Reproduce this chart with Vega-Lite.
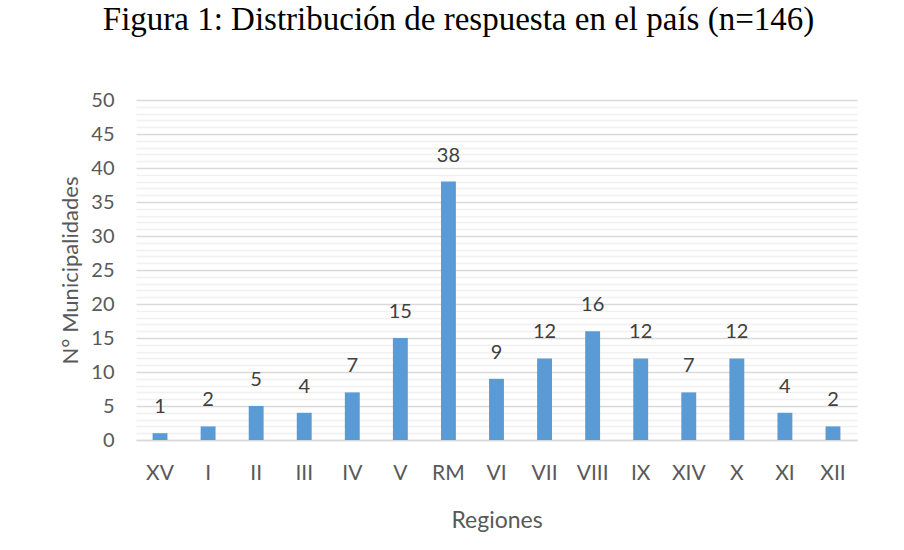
{
  "$schema": "https://vega.github.io/schema/vega-lite/v6.json",
  "width": 721,
  "height": 340,
  "autosize": "none",
  "padding": {"left": 136, "top": 100, "right": 47, "bottom": 110},
  "background": "white",
  "title": {
    "text": "Figura 1: Distribución de respuesta en el país (n=146)",
    "font": "Liberation Serif",
    "fontSize": 33,
    "fontWeight": "normal",
    "color": "#000000",
    "anchor": "middle",
    "baseline": "bottom",
    "offset": 20,
    "dx": -38
  },
  "config": {
    "view": {"stroke": null},
    "font": "Lato"
  },
  "data": {
    "values": [
      {"region": "XV", "n": 1},
      {"region": "I", "n": 2},
      {"region": "II", "n": 5},
      {"region": "III", "n": 4},
      {"region": "IV", "n": 7},
      {"region": "V", "n": 15},
      {"region": "RM", "n": 38},
      {"region": "VI", "n": 9},
      {"region": "VII", "n": 12},
      {"region": "VIII", "n": 16},
      {"region": "IX", "n": 12},
      {"region": "XIV", "n": 7},
      {"region": "X", "n": 12},
      {"region": "XI", "n": 4},
      {"region": "XII", "n": 2}
    ]
  },
  "encoding": {
    "x": {
      "field": "region",
      "type": "nominal",
      "sort": null,
      "title": "Regiones",
      "scale": {"paddingInner": 0.69, "paddingOuter": 0.345},
      "axis": {
        "labelAngle": 0,
        "labelFont": "Lato",
        "labelFontSize": 21,
        "labelColor": "#595959",
        "labelPadding": 22,
        "ticks": false,
        "domain": true,
        "domainColor": "#d9d9d9",
        "domainWidth": 1.5,
        "titleFont": "Lato",
        "titleFontSize": 23,
        "titleFontWeight": "normal",
        "titleColor": "#595959",
        "titlePadding": 26
      }
    },
    "y": {
      "field": "n",
      "type": "quantitative",
      "title": "N° Municipalidades",
      "scale": {"domain": [0, 50], "nice": false},
      "axis": {
        "values": [0,1,2,3,4,5,6,7,8,9,10,11,12,13,14,15,16,17,18,19,20,21,22,23,24,25,26,27,28,29,30,31,32,33,34,35,36,37,38,39,40,41,42,43,44,45,46,47,48,49,50],
        "labelExpr": "datum.value % 5 === 0 ? datum.label : ''",
        "gridColor": {"condition": {"test": "datum.value % 5 === 0", "value": "#d9d9d9"}, "value": "#f0f0f0"},
        "gridWidth": 1.3,
        "ticks": false,
        "domain": false,
        "labelFont": "Lato",
        "labelFontSize": 20,
        "labelColor": "#595959",
        "labelPadding": 22,
        "titleFont": "Lato",
        "titleFontSize": 22,
        "titleFontWeight": "normal",
        "titleColor": "#595959",
        "titlePadding": 8
      }
    }
  },
  "layer": [
    {"mark": {"type": "bar", "color": "#5b9bd5"}},
    {
      "mark": {"type": "text", "dy": -16, "baseline": "bottom", "font": "Lato", "fontSize": 20, "color": "#404040"},
      "encoding": {"text": {"field": "n", "type": "quantitative"}}
    }
  ]
}
